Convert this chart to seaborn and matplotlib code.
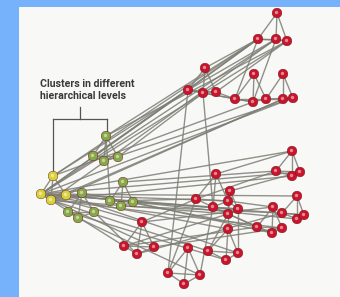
import numpy as np
import pandas as pd
import seaborn as sns
import matplotlib
matplotlib.use("Agg")
import matplotlib.pyplot as plt

# node positions (pixel coords, y down)
node_x = [41, 51, 53, 66,
          106, 93, 104, 118, 123, 110, 121, 133, 82, 68, 78, 94,
          277, 258, 276, 287, 205, 188, 203, 216, 254, 235, 253, 266, 283, 283, 293,
          216, 196, 213, 228, 230, 228, 238,
          292, 276, 292, 300, 297, 273, 282, 297, 304, 257, 272, 282,
          142, 124, 137, 154, 228, 208, 226, 238, 188, 168, 200, 184]
node_y = [194, 200, 176, 195,
          136, 156, 161, 157, 182, 201, 206, 202, 193, 212, 218, 212,
          13, 39, 39, 41, 68, 90, 93, 92, 74, 99, 102, 99, 74, 99, 98,
          174, 199, 207, 201, 191, 214, 209,
          151, 171, 176, 172, 196, 207, 213, 219, 215, 227, 233, 228,
          222, 246, 254, 247, 229, 251, 260, 253, 248, 273, 275, 284]
node_level = (["yellow"] * 4 + ["green"] * 12 + ["red"] * 46)

# small clusters: apex + base nodes
clusters = [(2, 0, 1, 3), (4, 5, 6, 7), (8, 9, 10, 11), (12, 13, 14, 15),
            (16, 17, 18, 19), (20, 21, 22, 23), (24, 25, 26, 27), (28, 27, 29, 30),
            (31, 32, 33, 34), (35, 34, 36, 37), (38, 39, 40, 41), (42, 44, 45, 46),
            (43, 47, 48, 49), (50, 51, 52, 53), (54, 55, 56, 57), (58, 59, 60, 61)]

# links between clusters
links = [(17, 20), (17, 21), (18, 21), (19, 23), (17, 25), (18, 26), (21, 25), (23, 25),
         (22, 26), (21, 59), (22, 33),
         (0, 17), (0, 18), (0, 19), (1, 18), (2, 17), (2, 21), (0, 21), (3, 29), (0, 30),
         (1, 29), (2, 26), (0, 38), (0, 41), (1, 40), (0, 46), (3, 45), (1, 49), (0, 42),
         (3, 34), (0, 37), (1, 36), (0, 51), (0, 50), (1, 53), (1, 55), (3, 57), (0, 54),
         (4, 17), (4, 19), (7, 22), (5, 21), (6, 30), (8, 39), (11, 37), (10, 44), (9, 32),
         (15, 52), (14, 60), (13, 56), (12, 47), (11, 48), (4, 9),
         (31, 38), (32, 39), (34, 43), (35, 41), (33, 47), (36, 48),
         (51, 47), (53, 49), (50, 43), (52, 44), (51, 36), (50, 32), (32, 59), (33, 60),
         (54, 34), (55, 36), (57, 37)]

label = "Clusters in different\nhierarchical levels"

nodes = pd.DataFrame({"x": node_x, "y": node_y, "level": node_level})

edges = []
for c in clusters:
    for i in range(len(c)):
        for j in range(i + 1, len(c)):
            edges.append((c[i], c[j]))
edges += links

fig = plt.figure(figsize=(3.4, 2.97), dpi=100, facecolor="#76b2fb")
ax = fig.add_axes([19 / 340, 0, 321 / 340, 290 / 297])
ax.set_facecolor("#f8f8f6")
ax.set_xlim(19, 340)
ax.set_ylim(297, 7)
ax.set_xticks([])
ax.set_yticks([])
for sp in ax.spines.values():
    sp.set_visible(False)

for a, b in edges:
    ax.plot([node_x[a], node_x[b]], [node_y[a], node_y[b]],
            color="#7e7e76", lw=1.0, alpha=0.85, zorder=1)

sns.scatterplot(data=nodes, x="x", y="y", hue="level", ax=ax, s=48,
                palette={"yellow": "#d8d23a", "green": "#86a847", "red": "#c8142c"},
                edgecolor="#6a1010", linewidth=0.3, legend=False, zorder=3)
# sphere highlights
ax.scatter(nodes.x - 0.9, nodes.y - 1.1, s=6, color="white", alpha=0.5,
           linewidths=0, zorder=4)
ax.set_xlabel("")
ax.set_ylabel("")

# bracket
ax.plot([80, 80], [107, 119], color="#555555", lw=0.9)
ax.plot([53, 107], [119, 119], color="#555555", lw=0.9)
ax.plot([53, 53], [119, 172], color="#555555", lw=0.9)
ax.plot([107, 107], [119, 132], color="#555555", lw=0.9)

ax.text(40, 90, label, fontsize=7.6, family="Roboto", fontweight="bold",
        color="#3a3a3a", linespacing=1.2, va="center", ha="left")

fig.savefig("out.png", dpi=100, facecolor=fig.get_facecolor())
